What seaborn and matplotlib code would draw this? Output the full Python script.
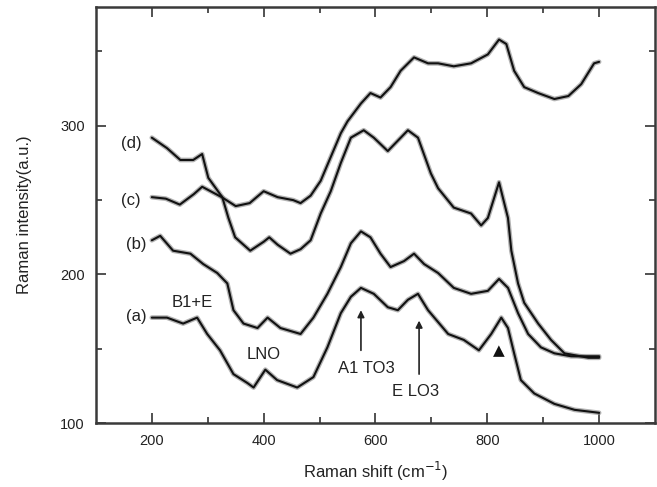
import numpy as np
import pandas as pd
import matplotlib
matplotlib.use("Agg")
import matplotlib.pyplot as plt
import seaborn as sns

# ── Data ────────────────────────────────────────────────────────────────────
a_x = [200, 227, 256, 281, 299, 322, 346, 371, 382, 403, 424, 460, 489, 514, 538,
       556, 574, 597, 622, 640, 658, 676, 694, 730, 758, 785, 807, 825, 837, 848,
       860, 884, 920, 956, 1000]
a_y = [171, 171, 167, 171, 160, 149, 133, 127, 124, 136, 129, 124, 131, 151, 174,
       185, 191, 187, 178, 176, 183, 187, 176, 160, 156, 149, 160, 171, 164, 147,
       129, 120, 113, 109, 107]

b_x = [200, 215, 238, 269, 292, 317, 335, 346, 364, 389, 407, 430, 466, 489, 514,
       538, 556, 574, 591, 609, 627, 651, 669, 687, 712, 740, 771, 801, 821, 837,
       855, 873, 896, 920, 950, 1000]
b_y = [223, 226, 216, 214, 207, 201, 194, 176, 167, 164, 171, 164, 160, 171, 187,
       205, 221, 229, 225, 214, 205, 209, 214, 207, 201, 191, 187, 189, 197, 191,
       174, 160, 151, 147, 145, 145]

c_x = [200, 225, 250, 275, 290, 325, 350, 375, 400, 425, 453, 466, 484, 502, 520,
       538, 550, 574, 591, 609, 627, 645, 669, 694, 712, 740, 771, 801, 821, 834,
       848, 866, 891, 920, 945, 968, 991, 1000]
c_y = [252, 251, 247, 254, 259, 252, 246, 248, 256, 252, 250, 248, 253, 263, 279,
       295, 303, 315, 322, 319, 326, 337, 346, 342, 342, 340, 342, 348, 358, 355,
       337, 326, 322, 318, 320, 328, 342, 343]

d_x = [200, 227, 251, 274, 290, 301, 326, 337, 349, 376, 400, 410, 425, 448, 466,
       484, 502, 520, 538, 556, 579, 597, 622, 640, 658, 676, 699, 712, 740, 771,
       789, 801, 821, 837, 843, 855, 866, 891, 914, 938, 981, 1000]
d_y = [292, 285, 277, 277, 281, 265, 252, 238, 225, 216, 222, 225, 220, 214, 217,
       223, 241, 256, 275, 292, 297, 292, 283, 290, 297, 292, 268, 258, 245, 241,
       233, 238, 262, 238, 216, 194, 181, 167, 156, 147, 144, 144]

curve_labels = ["(a)", "(b)", "(c)", "(d)"]
label_pos = [(172, 172), (172, 220), (163, 250), (163, 288)]

peak_labels = ["B1+E", "LNO", "A1 TO3", "E LO3"]
peak_pos = [(273, 181), (400, 146), (584, 137), (672, 121)]
arrows = [((574, 149), (574, 176)), ((678, 133), (678, 169))]
triangle_pos = (821, 149)

# ── Frame ───────────────────────────────────────────────────────────────────
sns.set_theme(style="ticks")
plt.rcParams["font.family"] = ["Liberation Sans", "DejaVu Sans"]
plt.rcParams["lines.solid_joinstyle"] = "round"
plt.rcParams["lines.solid_capstyle"] = "round"

frames = []
for name, xs, ys in [("a", a_x, a_y), ("b", b_x, b_y), ("c", c_x, c_y), ("d", d_x, d_y)]:
    frames.append(pd.DataFrame({"shift": xs, "intensity": ys, "sample": name}))
df = pd.concat(frames, ignore_index=True)

fig = plt.figure(figsize=(6.57, 4.87), dpi=100)
ax = fig.add_axes([0.146, 0.131, 0.851, 0.855])

# grey halo first, then the dark trace on top
halo = {k: "#8a8a8a" for k in "abcd"}
sns.lineplot(data=df, x="shift", y="intensity", hue="sample", units="sample",
             estimator=None, sort=False, palette=halo, linewidth=3.4, alpha=0.65,
             legend=False, ax=ax)
core = {k: "#111111" for k in "abcd"}
sns.lineplot(data=df, x="shift", y="intensity", hue="sample", units="sample",
             estimator=None, sort=False, palette=core, linewidth=1.5,
             legend=False, ax=ax)

ax.set_xlim(100, 1100)
ax.set_ylim(100, 380)
ax.set_xticks([200, 400, 600, 800, 1000])
ax.set_xticks([300, 500, 700, 900], minor=True)
ax.set_yticks([100, 200, 300])
ax.set_yticks([150, 250, 350], minor=True)
ax.tick_params(which="both", direction="in", top=True, right=True,
               colors="#333333", labelcolor="#222222", labelsize=10.5, width=1.2)
ax.tick_params(which="major", length=7, pad=8)
ax.tick_params(which="minor", length=4)
for s in ax.spines.values():
    s.set_linewidth(1.8)
    s.set_color("#3a3a3a")

ax.set_xlabel("Raman shift (cm$^{-1}$)", fontsize=12, color="#222222", labelpad=8)
ax.set_ylabel("Raman intensity(a.u.)", fontsize=12, color="#222222", labelpad=20)

for txt, (x, y) in zip(curve_labels, label_pos):
    ax.text(x, y, txt, fontsize=12, ha="center", va="center", color="#222222")
for txt, (x, y) in zip(peak_labels, peak_pos):
    ax.text(x, y, txt, fontsize=12, ha="center", va="center", color="#222222")
for (tail, head) in arrows:
    ax.annotate("", xy=head, xytext=tail,
                arrowprops=dict(arrowstyle="-|>", color="#222222", lw=1.2,
                                mutation_scale=10, shrinkA=0, shrinkB=0))
ax.text(*triangle_pos, "▲", fontsize=11, ha="center", va="center",
        color="#111111", family="DejaVu Sans")

fig.savefig("out.png", dpi=100)
